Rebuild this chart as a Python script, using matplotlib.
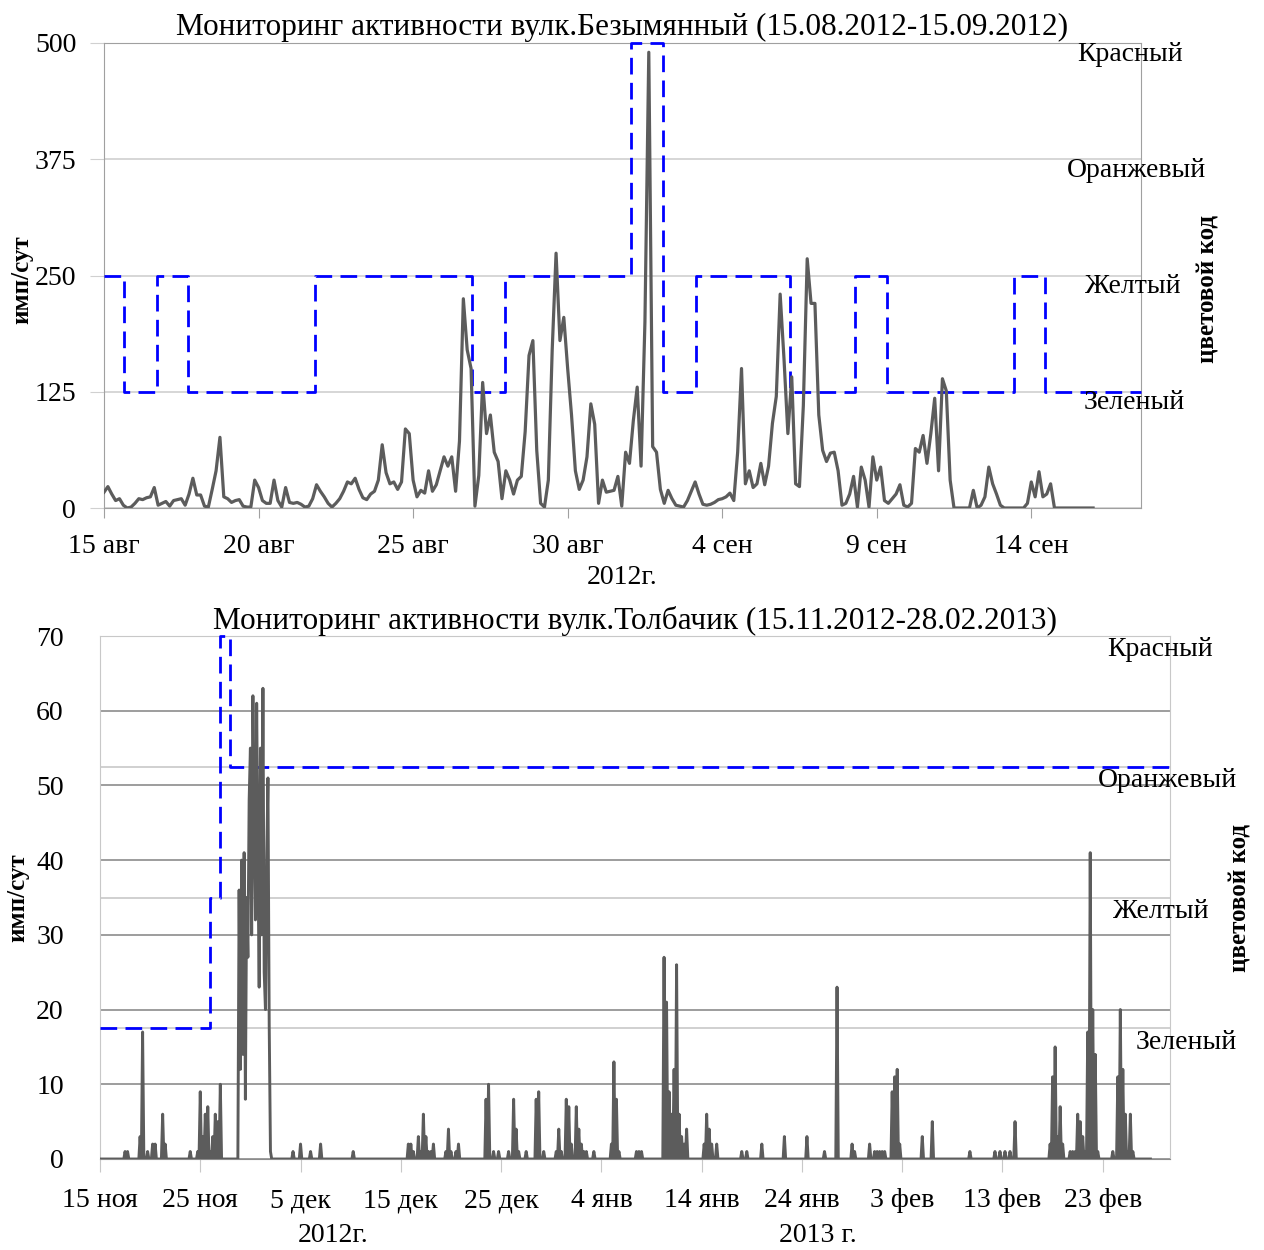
import numpy as np
import matplotlib.pyplot as plt

plt.rcParams['font.family'] = ['Liberation Serif', 'DejaVu Serif']

# Безымянный, имп/сут, шаг 3 ч от 15.08.2012 (одна строка = сутки)
bez_vals = [
    17, 23, 15, 8, 10, 3, 0, 1,
    5, 10, 9, 11, 12, 22, 3, 5,
    7, 2, 8, 9, 10, 3, 15, 32,
    14, 14, 2, 1, 20, 40, 76, 12,
    10, 6, 8, 9, 2, 1, 1, 30,
    22, 8, 5, 5, 30, 8, 1, 22,
    6, 5, 6, 4, 1, 2, 10, 25,
    18, 12, 5, 1, 5, 10, 18, 28,
    26, 32, 20, 11, 9, 15, 18, 30,
    68, 38, 26, 28, 20, 28, 85, 80,
    30, 12, 19, 16, 40, 18, 25, 40,
    55, 45, 55, 18, 72, 225, 170, 150,
    2, 35, 135, 80, 100, 60, 50, 10,
    40, 30, 15, 30, 34, 82, 164, 180,
    62, 5, 1, 30, 170, 274, 180, 205,
    150, 100, 40, 20, 30, 55, 112, 90,
    5, 30, 17, 18, 19, 34, 2, 60,
    48, 94, 130, 45, 200, 490, 66, 60,
    20, 5, 19, 10, 3, 2, 1, 8,
    18, 28, 15, 4, 3, 4, 6, 9,
    10, 12, 16, 8, 60, 150, 26, 40,
    22, 26, 48, 25, 45, 91, 120, 230,
    160, 80, 141, 26, 23, 110, 268, 220,
    220, 100, 62, 50, 59, 60, 40, 3,
    5, 15, 34, 1, 44, 30, 1, 55,
    30, 44, 8, 5, 10, 15, 25, 3,
    1, 5, 64, 60, 78, 48, 80, 118,
    40, 139, 126, 30, 0, 0, 0, 0,
    0, 19, 0, 3, 12, 44, 26, 15,
    3, 0, 0, 0, 0, 0, 0, 5,
    28, 12, 39, 12, 15, 26, 0, 0,
    0, 0, 0, 0, 0, 0, 0, 0,
    0]
# цветовой код (сутки от 15.08.2012)
bez_code_t = [0, 0.66, 1.71, 2.73, 6.82, 11.92, 12.97, 17.05, 18.1, 19.14,
              22.2, 24.3, 25.32, 29.44, 30.44, 33.55]
bez_code_v = [250, 125, 250, 125, 250, 125, 250, 500, 125, 250,
              125, 250, 125, 250, 125, 125]
bez_ticks = ['15 авг', '20 авг', '25 авг', '30 авг', '4 сен', '9 сен', '14 сен']

# Толбачик, имп/сут, шаг 3 ч от 15.11.2012 (ненулевые отсчёты)
tol_days = [2.5, 2.75, 4.0, 4.25, 4.75, 5.25, 5.5, 6.25, 6.5, 9.0,
            9.75, 10.0, 10.25, 10.5, 10.75, 11.0, 11.25, 11.5, 11.75, 12.0,
            13.875, 14.0, 14.125, 14.25, 14.375, 14.5, 14.625, 14.75,
            14.875, 15.0, 15.125, 15.25, 15.375, 15.5, 15.625, 15.75,
            15.875, 16.0, 16.125, 16.25, 16.375, 16.5, 16.625, 16.75,
            16.875, 17.0,
            19.25, 20.0, 21.0, 22.0, 25.25,
            30.75, 31.0, 31.25, 31.75, 32.0, 32.25, 32.5, 32.75, 33.0, 33.25,
            34.5, 34.75, 35.0, 35.5, 35.75,
            38.5, 38.75, 39.25, 39.75,
            40.75, 41.25, 41.5, 41.75,
            42.5, 43.5, 43.75, 44.25,
            45.5, 45.75, 46.0, 46.5, 46.75, 47.0, 47.5, 47.75, 48.0, 48.25,
            48.5, 49.25,
            51.0, 51.25, 51.5, 51.75, 53.5, 53.75, 54.0,
            56.25, 56.5, 56.75, 57.0, 57.25, 57.5, 57.75, 58.0, 58.25, 58.5,
            60.25, 60.5, 60.75, 61.0, 61.5,
            64.0, 64.5, 66.0, 68.25, 70.5, 72.25, 73.5, 75.0, 75.25,
            76.75, 77.25, 77.5, 77.75, 78.0, 78.25,
            79.0, 79.25, 79.5, 79.75,
            82.0, 83.0, 86.75, 89.25, 89.75, 90.25, 90.75, 91.25,
            94.75, 95.0, 95.25, 95.5, 95.75, 96.0,
            96.75, 97.0, 97.25, 97.5, 97.75, 98.0, 98.25,
            98.5, 98.75, 99.0, 99.25, 99.5,
            101.0, 101.5, 101.75, 102.0, 102.25, 102.5, 102.75, 103.0]
tol_vals = [1, 1, 3, 17, 1, 2, 2, 6, 2, 1,
            1, 9, 3, 6, 7, 1, 3, 6, 5, 10,
            36, 12, 40, 14, 41, 8, 35, 27,
            48, 55, 30, 62, 45, 32, 61, 40,
            23, 55, 30, 63, 25, 20, 40, 51,
            18, 1,
            1, 2, 1, 2, 1,
            2, 2, 1, 3, 1, 6, 3, 1, 1, 2,
            1, 4, 1, 1, 2,
            8, 10, 1, 1,
            1, 8, 4, 1,
            1, 8, 9, 1,
            1, 4, 1, 8, 7, 2, 7, 4, 2, 1,
            1, 1,
            2, 13, 8, 1, 1, 1, 1,
            27, 21, 9, 6, 12, 26, 6, 3, 2, 4,
            2, 6, 4, 2, 2,
            1, 1, 2, 3, 3, 1, 23, 2, 1,
            2, 1, 1, 1, 1, 1,
            9, 11, 12, 2,
            3, 5, 1, 1, 1, 1, 1, 5,
            2, 11, 15, 3, 7, 2,
            1, 1, 1, 6, 5, 3, 1,
            17, 41, 20, 14, 1,
            1, 11, 20, 12, 6, 1, 6, 1]
tol_end = 104.75
tol_code_t = [0, 10.95, 12.0, 12.95, 106.7]
tol_code_v = [17.5, 35, 70, 52.5, 52.5]
tol_ticks = ['15 ноя', '25 ноя', '5 дек', '15 дек', '25 дек', '4 янв',
             '14 янв', '24 янв', '3 фев', '13 фев', '23 фев']

levels = ['Зеленый', 'Желтый', 'Оранжевый', 'Красный']

gray = '#5c5c5c'
blue = '#0000ff'
fs = 20

fig = plt.figure(figsize=(12.64, 12.5), dpi=100)

# ---- Безымянный
ax1 = fig.add_axes([0.0823, 0.5936, 0.8204, 0.372])
t1 = np.arange(len(bez_vals)) / 8
ax1.step(bez_code_t, bez_code_v, where='post', color=blue, lw=2,
         ls=(0, (6, 3)), clip_on=False, zorder=3)
ax1.plot(t1, bez_vals, color=gray, lw=2.3, zorder=4)
ax1.set_xlim(0, 33.55)
ax1.set_ylim(0, 500)
ax1.set_yticks([0, 125, 250, 375, 500])
ax1.set_xticks(np.arange(len(bez_ticks)) * 5)
ax1.set_xticklabels(bez_ticks)
ax1.yaxis.grid(True, color='#d0d0d0', lw=1.2)
ax1.set_axisbelow(True)
for s in ax1.spines.values():
    s.set_color('#a0a0a0')
ax1.tick_params(axis='x', length=7, color='#a0a0a0', pad=12, labelsize=fs)
ax1.tick_params(axis='y', length=10, color='#d0d0d0', pad=10, labelsize=fs)
ax1.set_title('Мониторинг активности вулк.Безымянный (15.08.2012-15.09.2012)',
              fontsize=22.5, pad=6)
ax1.text(-0.079, 0.49, 'имп/сут', transform=ax1.transAxes, rotation=90,
         fontsize=18, fontweight='bold', ha='center', va='center')
ax1.text(1.065, 0.47, 'цветовой код', transform=ax1.transAxes, rotation=90,
         fontsize=18, fontweight='bold', ha='center', va='center')
ax1.text(0.5, -0.15, '2012г.', transform=ax1.transAxes, fontsize=fs,
         ha='center', va='center')
bez_lab_x = [0.993, 0.992, 0.996, 0.989]
for name, lv, xx in zip(levels, [125, 250, 375, 500], bez_lab_x):
    ax1.annotate(name, xy=(xx, lv), xycoords=('axes fraction', 'data'),
                 xytext=(0, -8), textcoords='offset points',
                 ha='center', va='center', fontsize=fs)

# ---- Толбачик
ax2 = fig.add_axes([0.0791, 0.0728, 0.8465, 0.4184])
t2 = np.arange(int(tol_end * 8) + 1) / 8
tol = np.zeros(len(t2))
tol[np.round(np.array(tol_days) * 8).astype(int)] = tol_vals
ax2.step(tol_code_t, tol_code_v, where='post', color=blue, lw=2,
         ls=(0, (6, 3)), clip_on=False, zorder=3)
ax2.plot(t2, tol, color=gray, lw=2.1, zorder=4)
ax2.set_xlim(0, 106.7)
ax2.set_ylim(0, 70)
ax2.set_yticks(np.arange(0, 71, 10))
ax2.set_xticks(np.arange(len(tol_ticks)) * 10)
ax2.set_xticklabels(tol_ticks)
ax2.yaxis.grid(True, color='#8c8c8c', lw=1.2)
for lv in [17.5, 35, 52.5]:
    ax2.axhline(lv, color='#c8c8c8', lw=1.2, zorder=0.5)
ax2.set_axisbelow(True)
for s in ax2.spines.values():
    s.set_color('#c8c8c8')
ax2.spines['bottom'].set_color('#8c8c8c')
ax2.tick_params(axis='x', length=9, color='#c8c8c8', pad=12, labelsize=fs)
ax2.tick_params(axis='y', length=0, pad=26, labelsize=fs)
ax2.set_title('Мониторинг активности вулк.Толбачик (15.11.2012-28.02.2013)',
              fontsize=22.5, pad=4)
ax2.text(-0.077, 0.5, 'имп/сут', transform=ax2.transAxes, rotation=90,
         fontsize=18, fontweight='bold', ha='center', va='center')
ax2.text(1.065, 0.5, 'цветовой код', transform=ax2.transAxes, rotation=90,
         fontsize=18, fontweight='bold', ha='center', va='center')
ax2.text(0.218, -0.147, '2012г.', transform=ax2.transAxes, fontsize=fs,
         ha='center', va='center')
ax2.text(0.671, -0.147, '2013 г.', transform=ax2.transAxes, fontsize=fs,
         ha='center', va='center')
tol_lab_x = [1.015, 0.991, 0.998, 0.991]
for name, lv, xx in zip(levels, [17.5, 35, 52.5, 70], tol_lab_x):
    ax2.annotate(name, xy=(xx, lv), xycoords=('axes fraction', 'data'),
                 xytext=(0, -10), textcoords='offset points',
                 ha='center', va='center', fontsize=fs)

fig.savefig('out.png', dpi=100)
